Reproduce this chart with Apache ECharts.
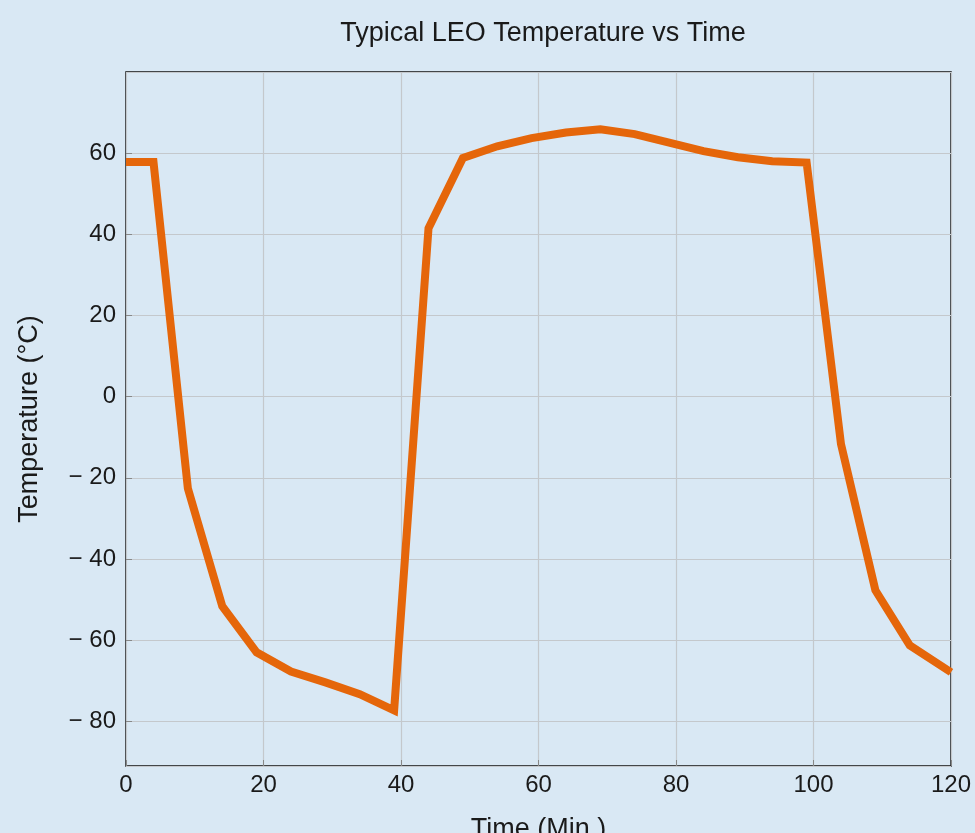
<!DOCTYPE html>
<html>
<head>
<meta charset="utf-8">
<title>Typical LEO Temperature vs Time</title>
<script src="https://cdn.jsdelivr.net/npm/echarts@6/dist/echarts.min.js"></script>
<style>
    html, body {
        margin: 0;
        padding: 0;
        background: #d9e8f4;
    }
    #chart {
        width: 975px;
        height: 833px;
    }
</style>
</head>
<body>
<div id="chart"></div>
<script>
// orbit time (min) and temperature (°C)
const timeMin = [0, 4, 9, 14, 19, 24, 29, 34, 39, 44, 49, 54, 59, 64, 69, 74, 79, 84, 89, 94, 99, 104, 109, 114, 120]
const tempC = [
    57.8, 57.8, -22.6, -51.6, -63, -67.7, -70.4, -73.3, -77.3,
    41.5, 58.8, 61.7, 63.7, 65.1, 65.9, 64.7, 62.6, 60.5, 59, 58, 57.7,
    -11.7, -47.7, -61.3, -67.9
]
const xTicks = [0, 20, 40, 60, 80, 100, 120]

const chart = echarts.init(document.getElementById('chart'))

const minus = v => String(v).replace('-', '\u2212 ')

const option = {
    backgroundColor: '#d9e8f4',
    animation: false,
    textStyle: {
        fontFamily: 'Liberation Sans, Arial, sans-serif'
    },
    title: {
        text: 'Typical LEO Temperature vs Time',
        left: 538,
        textAlign: 'center',
        top: 15,
        textStyle: {
            color: '#1a1a1a',
            fontSize: 27,
            fontWeight: 'normal'
        }
    },
    grid: {
        left: 126,
        right: 24,
        top: 72,
        bottom: 67,
        outerBoundsMode: 'none',
        containLabel: false,
        show: true,
        borderColor: '#111',
        borderWidth: 1.5
    },
    xAxis: {
        type: 'value',
        min: xTicks[0],
        max: xTicks[xTicks.length - 1],
        interval: 20,
        name: 'Time (Min.)',
        nameLocation: 'middle',
        nameGap: 50,
        nameTextStyle: {
            color: '#1a1a1a',
            fontSize: 27
        },
        axisLine: { show: false, onZero: false },
        axisTick: {
            inside: true,
            length: 6,
            lineStyle: { color: '#888' }
        },
        axisLabel: {
            color: '#1a1a1a',
            fontSize: 24,
            margin: 7
        },
        splitLine: {
            lineStyle: { color: '#c4c8cc', width: 1.2 }
        }
    },
    yAxis: {
        type: 'value',
        min: -91,
        max: 80,
        minInterval: 20,
        maxInterval: 20,
        name: 'Temperature (°C)',
        nameLocation: 'middle',
        nameGap: 83,
        nameTextStyle: {
            color: '#1a1a1a',
            fontSize: 27
        },
        axisLine: { show: false, onZero: false },
        axisTick: {
            inside: true,
            length: 6,
            lineStyle: { color: '#888' }
        },
        axisLabel: {
            color: '#1a1a1a',
            fontSize: 24,
            margin: 10,
            showMaxLabel: false,
            showMinLabel: false,
            formatter: minus
        },
        splitLine: {
            lineStyle: { color: '#c4c8cc', width: 1.2 }
        }
    },
    series: [
        {
            type: 'line',
            data: timeMin.map((t, i) => [t, tempC[i]]),
            symbol: 'none',
            clip: true,
            lineStyle: {
                color: '#e5660a',
                width: 8,
                join: 'miter'
            }
        }
    ]
}

chart.setOption(option)
</script>
</body>
</html>
